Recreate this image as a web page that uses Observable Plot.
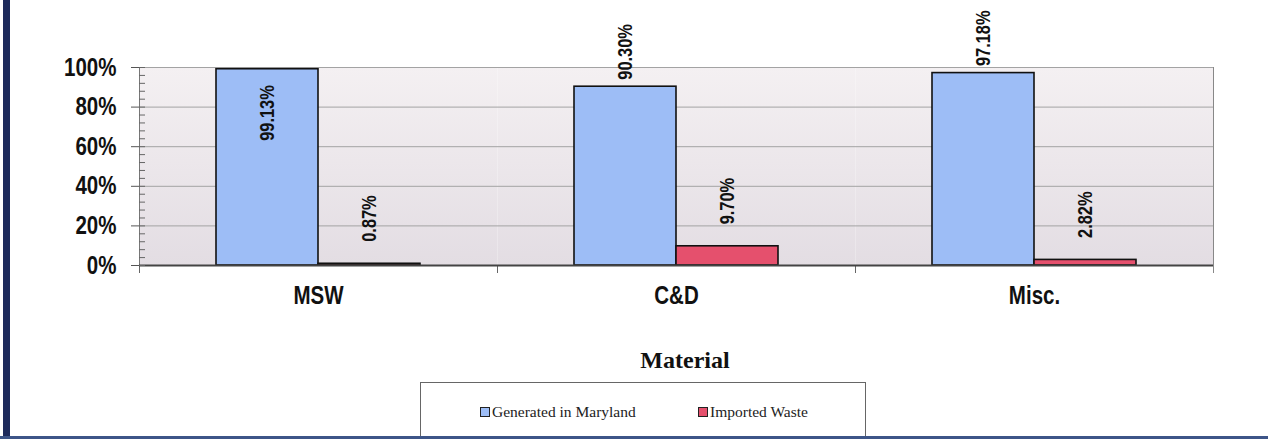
<!DOCTYPE html>
<html>
<head>
<meta charset="utf-8">
<script src="https://cdn.jsdelivr.net/npm/d3@7"></script>
<script src="https://cdn.jsdelivr.net/npm/@observablehq/plot@0.6"></script>
<style>
  body { margin: 0; width: 1268px; height: 439px; position: relative; overflow: hidden; background: #fff; }
  #chart { position: absolute; left: 0; top: 0; }
  .leftbar { position: absolute; left: 3px; top: 0; width: 7px; height: 437px; background: #1e2b5c; }
  .bottombar { position: absolute; left: 0; top: 436px; width: 1268px; height: 3px; background: #3d5588; }
  .xlabel { position: absolute; left: 585px; top: 348px; width: 200px; text-align: center;
            font-family: "Liberation Serif", serif; font-weight: bold; font-size: 24px; line-height: 24px; color: #111; }
  .legend { position: absolute; left: 420px; top: 382px; width: 444px; height: 60px;
            border: 1px solid #666; border-bottom: none; background: #fff; }
  .item { position: absolute; top: 403px; font-family: "Liberation Serif", serif; font-size: 15.5px;
          line-height: 18px; color: #222; white-space: nowrap; }
  .sw { display: inline-block; width: 8px; height: 8px; border: 1.5px solid #222; margin-right: 2px; vertical-align: 0px; }
</style>
</head>
<body>
<div id="chart"></div>
<div class="leftbar"></div>
<div class="xlabel">Material</div>
<div class="legend"></div>
<div id="legendItems"></div>
<div class="bottombar"></div>
<script>
const categories = ["MSW", "C&D", "Misc."];
const series = ["Generated in Maryland", "Imported Waste"];
const generated = [99.13, 90.30, 97.18];
const imported = [0.87, 9.70, 2.82];
const yTicks = [0, 20, 40, 60, 80, 100];
const minorTicks = d3.range(0, 101, 4);
const colors = ["#9dbdf6", "#e5506d"];

const data = categories.flatMap((c, i) => [
  {cat: c, series: series[0], value: generated[i]},
  {cat: c, series: series[1], value: imported[i]}
]);
const sans = "'Liberation Sans', Arial, sans-serif";
const fmt = d => d.value.toFixed(2) + "%";
const labelFont = {fontSize: 20, fontWeight: "bold", fill: "#111", rotate: -90, lineAnchor: "middle"};

const chart = Plot.plot({
  width: 1268,
  height: 320,
  marginLeft: 138,
  marginRight: 54,
  marginTop: 67,
  marginBottom: 55,
  style: {fontFamily: sans, background: "transparent", color: "#111"},
  fx: {domain: categories, padding: 0, label: null},
  x: {domain: series, paddingInner: 0, paddingOuter: 0.75, axis: null},
  y: {domain: [0, 100]},
  color: {domain: series, range: colors},
  marks: [
    Plot.frame({fill: "url(#bgGrad)", stroke: "none"}),
    Plot.gridY(yTicks.filter(t => t > 0), {stroke: "#a3a3a3", strokeOpacity: 1, strokeWidth: 1}),
    Plot.frame({anchor: "left", insetTop: 198, insetBottom: -7, stroke: "#666"}),
    Plot.frame({anchor: "left", facetAnchor: "left", stroke: "#777"}),
    Plot.frame({anchor: "right", facetAnchor: "right", insetBottom: -7, stroke: "#888"}),
    Plot.barY(data, {fx: "cat", x: "series", y: "value", fill: "series", stroke: "#111", strokeWidth: 1.6}),
    Plot.ruleY([0], {stroke: "#444", strokeWidth: 2}),
    Plot.axisY({ticks: yTicks, tickFormat: d => d + "%", tickSize: 8, tickPadding: 15,
                fontSize: 25, fontWeight: "bold", label: null, stroke: "#555"}),
    Plot.axisY({ticks: minorTicks, tickSize: 6, dx: 6, text: null, label: null, stroke: "#666"}),
    Plot.axisFx({anchor: "bottom", tickSize: 0, tickPadding: 21, fontSize: 25, fontWeight: "bold", label: null}),
    Plot.text(data.filter(d => d.series === series[0] && d.value <= 98.5),
      {fx: "cat", x: "series", y: "value", text: fmt, textAnchor: "start", dy: -7, ...labelFont}),
    Plot.text(data.filter(d => d.series === series[0] && d.value > 98.5),
      {fx: "cat", x: "series", y: "value", text: fmt, textAnchor: "end", dy: 16, ...labelFont}),
    Plot.text(data.filter(d => d.series === series[1]),
      {fx: "cat", x: "series", y: "value", text: fmt, textAnchor: "start", dy: -22, ...labelFont})
  ]
});

// condensed (Arial Narrow-like) look for all chart texts
d3.select(chart).selectAll("text").each(function () {
  const t = this.getAttribute("transform");
  if (t) {
    this.setAttribute("transform", t + " scale(0.82,1)");
  } else {
    const x = +this.getAttribute("x") || 0, y = +this.getAttribute("y") || 0;
    this.removeAttribute("x"); this.removeAttribute("y");
    this.setAttribute("transform", `translate(${x},${y}) scale(0.82,1)`);
  }
});

const defs = d3.select(chart).insert("defs", ":first-child");
const grad = defs.append("linearGradient").attr("id", "bgGrad").attr("x1", 0).attr("y1", 0).attr("x2", 0).attr("y2", 1);
grad.append("stop").attr("offset", "0%").attr("stop-color", "#f4f0f2");
grad.append("stop").attr("offset", "100%").attr("stop-color", "#e3dde3");
document.getElementById("chart").appendChild(chart);

const legendLeft = [480, 698];
const li = d3.select("#legendItems");
series.forEach((s, i) => {
  const it = li.append("div").attr("class", "item").style("left", legendLeft[i] + "px");
  it.append("span").attr("class", "sw").style("background", colors[i]);
  it.append("span").text(s);
});
</script>
</body>
</html>
